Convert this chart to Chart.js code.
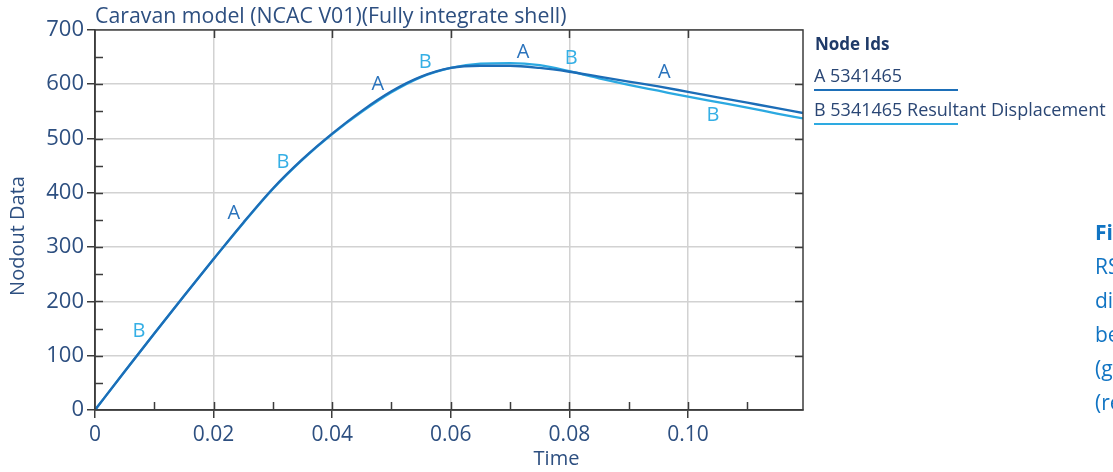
<!DOCTYPE html>
<html>
<head>
<meta charset="utf-8">
<script src="https://cdn.jsdelivr.net/npm/chart.js@4.4.1/dist/chart.umd.min.js"></script>
<style>
  html, body { margin: 0; padding: 0; background: #ffffff; overflow: hidden; }
  #wrap { position: relative; width: 1113px; height: 472px; }
  #chart { position: absolute; left: 0; top: 0; }
  .lg { position: absolute; font-family: "Open Sans", sans-serif; color: #2a4674; white-space: nowrap; }
  .side { position: absolute; left: 1095px; font-family: "Open Sans", sans-serif; font-size: 21px; color: #1174c3; white-space: nowrap; line-height: 34px; }
</style>
</head>
<body>
<div id="wrap">
  <canvas id="chart" width="1113" height="472"></canvas>
  <div class="lg" style="left:815px; top:32px; font-size:17px; font-weight:700; color:#1f3a68;">Node Ids</div>
  <div class="lg" style="left:814px; top:63px; font-size:18px;">A 5341465</div>
  <div style="position:absolute; left:814px; top:89px; width:144px; height:2px; background:#1d6fb8;"></div>
  <div class="lg" style="left:814px; top:97px; font-size:18px;">B 5341465 Resultant Displacement</div>
  <div style="position:absolute; left:814px; top:123px; width:144px; height:2px; background:#2eaae1;"></div>
  <div class="side" style="top:215px;"><b>Figure</b><br>RSS resultant<br>displacement<br>between<br>(green)<br>(red)</div>
</div>
<script>
// ---- data ----
const times   = [0, 0.005, 0.01, 0.015, 0.02, 0.025, 0.03, 0.035, 0.04, 0.045, 0.05, 0.055, 0.06, 0.065, 0.07, 0.075, 0.08, 0.085, 0.09, 0.095, 0.10, 0.105, 0.11, 0.115, 0.1194];
const seriesA = [0, 71, 141, 210, 278, 345, 408, 462, 509, 551, 587, 614, 630, 634, 634, 630, 623, 614, 605, 596, 586, 576, 566, 556, 547];
const seriesB = [0, 71, 141, 210, 278, 344, 407, 461, 508, 549, 585, 613, 630, 638, 639, 635, 624, 611, 599, 588, 577, 567, 557, 546, 537];
const seriesNames = ['A 5341465', 'B 5341465 Resultant Displacement'];
const xTickValues = [0, 0.02, 0.04, 0.06, 0.08, 0.10];
const xTickLabels = ['0', '0.02', '0.04', '0.06', '0.08', '0.10'];
const xMinorValues = [0.01, 0.03, 0.05, 0.07, 0.09, 0.11];
const yTickValues = [0, 100, 200, 300, 400, 500, 600, 700];
const yMinorValues = [50, 150, 250, 350, 450, 550, 650];
const markLetters = ['B', 'A', 'B', 'A', 'B', 'A', 'B', 'A', 'B'];
const markX = [0.0074, 0.0234, 0.0317, 0.0477, 0.0557, 0.0722, 0.0803, 0.0960, 0.1042];
const markY = [145, 363, 457, 599, 641, 659, 648, 622, 543];
const xAxisTitle = 'Time';
const yAxisTitle = 'Nodout Data';

const colorA = '#1c6db7';
const colorB = '#2ba9e1';
const textColor = '#2d4f80';
const axisColor = '#3c3c3c';
const gridColor = '#d2d2d2';

const ptsA = times.map((t, i) => ({ x: t, y: seriesA[i] }));
const ptsB = times.map((t, i) => ({ x: t, y: seriesB[i] }));

const decorPlugin = {
  id: 'decor',
  afterDatasetsDraw(chart) {
    const { ctx, scales: { x, y } } = chart;
    ctx.save();
    ctx.font = '20px "Open Sans", sans-serif';
    ctx.textAlign = 'center';
    ctx.textBaseline = 'middle';
    markLetters.forEach((L, i) => {
      ctx.fillStyle = L === 'A' ? '#2a73bc' : '#35afe5';
      ctx.fillText(L, x.getPixelForValue(markX[i]), y.getPixelForValue(markY[i]));
    });
    ctx.restore();
  },
  afterDraw(chart) {
    const { ctx, chartArea: { left, right, top, bottom }, scales: { x, y } } = chart;
    ctx.save();
    ctx.strokeStyle = axisColor;
    ctx.lineWidth = 1.5;
    ctx.strokeRect(left, top, right - left, bottom - top);
    ctx.beginPath();
    xTickValues.slice(1).forEach(v => {
      const px = Math.round(x.getPixelForValue(v)) + 0.5;
      ctx.moveTo(px, bottom - 8); ctx.lineTo(px, bottom);
      ctx.moveTo(px, top); ctx.lineTo(px, top + 8);
    });
    xMinorValues.forEach(v => {
      const px = Math.round(x.getPixelForValue(v)) + 0.5;
      ctx.moveTo(px, bottom - 8); ctx.lineTo(px, bottom);
    });
    yTickValues.slice(1, -1).forEach(v => {
      const py = Math.round(y.getPixelForValue(v)) + 0.5;
      ctx.moveTo(left, py); ctx.lineTo(left + 8, py);
      ctx.moveTo(right - 8, py); ctx.lineTo(right, py);
    });
    yMinorValues.forEach(v => {
      const py = Math.round(y.getPixelForValue(v)) + 0.5;
      ctx.moveTo(left, py); ctx.lineTo(left + 8, py);
    });
    ctx.stroke();
    // axis titles, centred on the whole figure as in the reference
    ctx.fillStyle = textColor;
    ctx.font = '20px "Open Sans", sans-serif';
    ctx.textAlign = 'center';
    ctx.textBaseline = 'middle';
    ctx.fillText(xAxisTitle, chart.width / 2, 459);
    ctx.translate(18, chart.height / 2);
    ctx.rotate(-Math.PI / 2);
    ctx.fillText(yAxisTitle, 0, 0);
    ctx.restore();
  }
};

new Chart(document.getElementById('chart'), {
  type: 'line',
  data: {
    datasets: [
      { label: seriesNames[0], data: ptsA, borderColor: colorA, borderWidth: 2.3, pointRadius: 0, fill: false, cubicInterpolationMode: 'monotone' },
      { label: seriesNames[1], data: ptsB, borderColor: colorB, borderWidth: 2.3, pointRadius: 0, fill: false, cubicInterpolationMode: 'monotone' }
    ]
  },
  options: {
    responsive: false,
    animation: false,
    devicePixelRatio: 1,
    layout: { padding: { left: 0, top: 4.8, right: 310, bottom: 0 } },
    plugins: {
      legend: { display: false },
      tooltip: { enabled: false },
      title: {
        display: true,
        text: 'Caravan model (NCAC V01)(Fully integrate shell)',
        align: 'start',
        color: textColor,
        font: { family: '"Open Sans", sans-serif', size: 21.3, weight: 'normal', lineHeight: 1.18 },
        padding: 0,
        fullSize: false
      }
    },
    scales: {
      x: {
        type: 'linear',
        min: 0,
        max: 0.1194,
        afterFit(scale) { scale.height = 62; },
        afterBuildTicks(scale) { scale.ticks = xTickValues.map(v => ({ value: v })); },
        ticks: {
          includeBounds: false,
          autoSkip: false,
          maxRotation: 0,
          color: textColor,
          padding: 4,
          font: { family: '"Open Sans", sans-serif', size: 21 },
          callback: (v) => { const i = xTickValues.indexOf(v); return i >= 0 ? xTickLabels[i] : ''; }
        },
        grid: { color: gridColor, lineWidth: 1.5, tickLength: 8, tickColor: axisColor, tickWidth: 1.5 },
        border: { display: true, color: axisColor, width: 1.5 },
        title: { display: false }
      },
      y: {
        type: 'linear',
        min: 0,
        max: 700,
        afterFit(scale) { scale.width = 95; },
        afterBuildTicks(scale) { scale.ticks = yTickValues.map(v => ({ value: v })); },
        ticks: {
          color: textColor,
          padding: 3,
          font: { family: '"Open Sans", sans-serif', size: 22 },
          callback: (v) => String(v)
        },
        grid: { color: gridColor, lineWidth: 1.5, tickLength: 8, tickColor: axisColor, tickWidth: 1.5 },
        border: { display: true, color: axisColor, width: 1.5 },
        title: { display: false }
      }
    }
  },
  plugins: [decorPlugin]
});
</script>
</body>
</html>
